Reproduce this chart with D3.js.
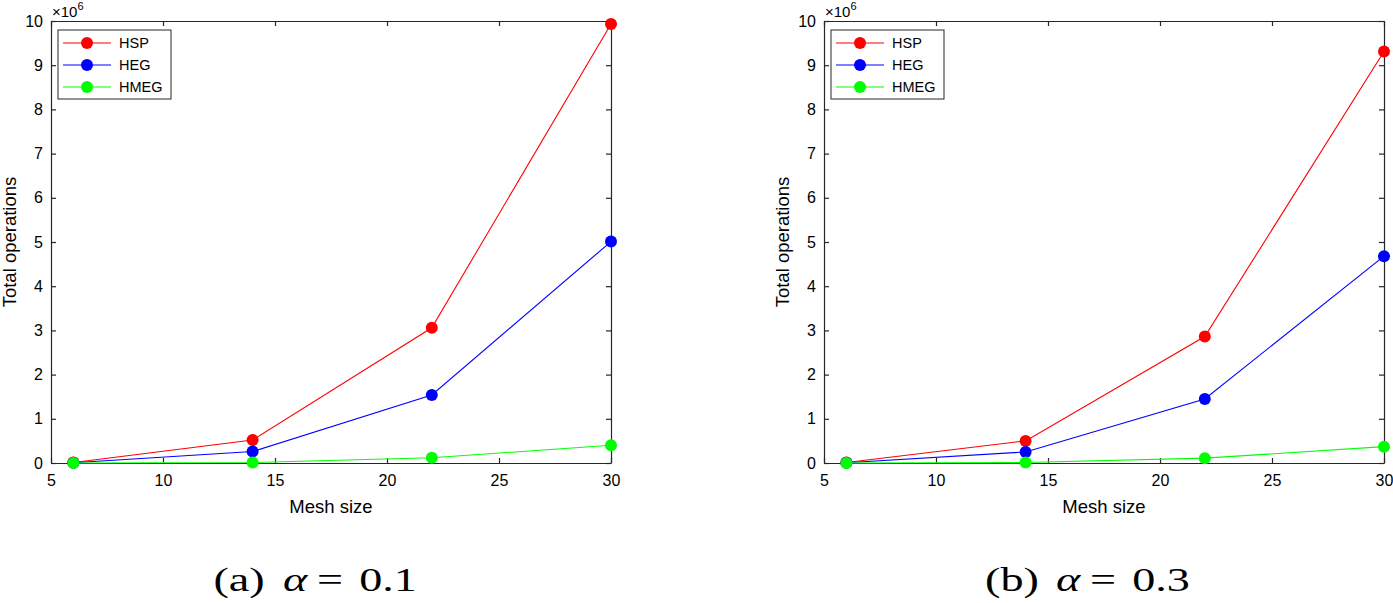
<!doctype html>
<html>
<head>
  <meta charset="utf8"/>
  <style>
    body { margin: 0; background: #fff; }
    text { font-family: "Liberation Sans", Arial, sans-serif; }
  </style>
</head>
<body>
  <svg width="1393" height="603"></svg>
  <script src="https://d3js.org/d3.v7.min.js"></script>
  <script>
    // mesh sizes (x) and total operations in units of 10^6
    var meshSizes = [6, 14, 22, 30];
    var xTicks = [5, 10, 15, 20, 25, 30];
    var yTicks = [0, 1, 2, 3, 4, 5, 6, 7, 8, 9, 10];

    var hspA = [0.01, 0.52, 3.06, 9.93];
    var hegA = [0.005, 0.26, 1.54, 5.01];
    var hmegA = [0.0, 0.01, 0.12, 0.40];

    var hspB = [0.01, 0.50, 2.86, 9.31];
    var hegB = [0.005, 0.25, 1.45, 4.68];
    var hmegB = [0.0, 0.01, 0.11, 0.37];

    var seriesNames = ['HSP', 'HEG', 'HMEG'];
    var seriesColors = ['#ff0000', '#0000ff', '#00ff00'];
    var captions = ['(a)', '(b)'];
    var alphas = ['0.1', '0.3'];

    var panels = [
      {left: 51, data: [hspA, hegA, hmegA]},
      {left: 824, data: [hspB, hegB, hmegB]}
    ];

    var svg = d3.select('svg'),
        plotTop = 21, width = 560, height = 442,
        axisColor = '#262626';

    panels.forEach(function(p, pi) {
      var g = svg.append('g').attr('transform', 'translate(' + p.left + ',' + plotTop + ')');

      var x = d3.scaleLinear().domain([5, 30]).range([0, width]);
      var y = d3.scaleLinear().domain([0, 10]).range([height, 0]);

      // axes (MATLAB-style inward ticks, boxed)
      var bottom = g.append('g').attr('transform', 'translate(0,' + height + ')')
        .call(d3.axisBottom(x).tickValues(xTicks).tickSizeInner(-5).tickSizeOuter(0).tickPadding(12));
      var topAx = g.append('g')
        .call(d3.axisTop(x).tickValues(xTicks).tickSizeInner(-5).tickSizeOuter(0).tickFormat(''));
      var leftAx = g.append('g')
        .call(d3.axisLeft(y).tickValues(yTicks).tickSizeInner(-5).tickSizeOuter(0).tickPadding(8));
      var rightAx = g.append('g').attr('transform', 'translate(' + width + ',0)')
        .call(d3.axisRight(y).tickValues(yTicks).tickSizeInner(-5).tickSizeOuter(0).tickFormat(''));

      [bottom, topAx, leftAx, rightAx].forEach(function(a) {
        a.attr('font-family', null).attr('font-size', null);
        a.selectAll('path, line').attr('stroke', axisColor).attr('stroke-width', 1.2);
        a.selectAll('text').attr('fill', '#000').style('font-size', '16px');
      });

      // exponent label
      var ex = g.append('text').attr('x', 1).attr('y', -4).style('font-size', '15px').attr('fill', '#000');
      ex.append('tspan').text('\u00d710');
      ex.append('tspan').attr('dy', -7).style('font-size', '11px').text('6');

      // axis titles
      g.append('text')
        .attr('x', width / 2).attr('y', height + 50)
        .attr('text-anchor', 'middle').style('font-size', '18.5px')
        .text('Mesh size');
      g.append('text')
        .attr('transform', 'translate(-35.5,' + (height / 2) + ') rotate(-90)')
        .attr('text-anchor', 'middle').style('font-size', '18.5px')
        .text('Total operations');

      var line = d3.line()
        .x(function(d, i) { return x(meshSizes[i]); })
        .y(function(d) { return y(d); });

      p.data.forEach(function(vals, si) {
        g.append('path')
          .datum(vals)
          .attr('fill', 'none')
          .attr('stroke', seriesColors[si])
          .attr('stroke-width', 1.1)
          .attr('d', line);
        g.selectAll('.pt' + si)
          .data(vals)
          .enter().append('circle')
          .attr('cx', function(d, i) { return x(meshSizes[i]); })
          .attr('cy', function(d) { return y(d); })
          .attr('r', 6)
          .attr('fill', seriesColors[si]);
      });

      // legend
      var lg = g.append('g').attr('transform', 'translate(7,9)');
      lg.append('rect').attr('width', 113).attr('height', 69)
        .attr('fill', '#fff').attr('stroke', axisColor).attr('stroke-width', 1);
      seriesNames.forEach(function(name, si) {
        var yy = 13 + si * 22;
        lg.append('line').attr('x1', 5).attr('x2', 53).attr('y1', yy).attr('y2', yy)
          .attr('stroke', seriesColors[si]).attr('stroke-width', 1.1);
        lg.append('circle').attr('cx', 29).attr('cy', yy).attr('r', 6).attr('fill', seriesColors[si]);
        lg.append('text').attr('x', 61).attr('y', yy + 5).style('font-size', '14.5px').text(name);
      });

      // caption (the original figure is stretched horizontally, so scale x)
      var cx = p.left + width / 2,
          capFont = '"Liberation Serif", "DejaVu Serif", serif',
          pieces = [
            {t: captions[pi], dx: -92, it: false},
            {t: '\u03b1', dx: -36, it: true},
            {t: '=', dx: -1, it: false},
            {t: alphas[pi], dx: 57, it: false}
          ];
      pieces.forEach(function(pc) {
        svg.append('text')
          .attr('transform', 'translate(' + (cx + pc.dx) + ',591) scale(1.4,1)')
          .attr('text-anchor', 'middle')
          .style('font-family', capFont)
          .style('font-size', '33px')
          .style('font-style', pc.it ? 'italic' : 'normal')
          .text(pc.t);
      });
    });
  </script>
</body>
</html>
